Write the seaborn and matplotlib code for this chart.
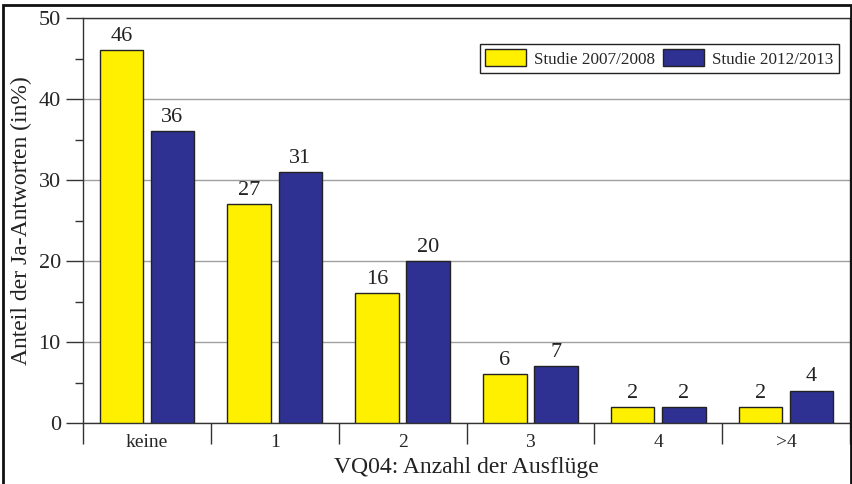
import pandas as pd
import matplotlib
matplotlib.use("Agg")
import matplotlib.pyplot as plt
import seaborn as sns
from matplotlib.patches import Rectangle
from matplotlib.ticker import MultipleLocator, FixedLocator

# Data
categories = ["keine", "1", "2", "3", "4", ">4"]
studie_2007 = [46, 27, 16, 6, 2, 2]
studie_2012 = [36, 31, 20, 7, 2, 4]
series_names = ["Studie 2007/2008", "Studie 2012/2013"]
colors = ["#FFF000", "#2E3192"]

df = pd.DataFrame({
    "kategorie": categories * 2,
    "wert": studie_2007 + studie_2012,
    "studie": [series_names[0]] * len(categories) + [series_names[1]] * len(categories),
})

sns.set_style("white")
plt.rcParams["font.family"] = ["Liberation Serif", "DejaVu Serif"]

fig = plt.figure(figsize=(8.53, 4.84), dpi=100)
ax = fig.add_axes([0.0973, 0.126, 0.8992, 0.8368])

sns.barplot(data=df, x="kategorie", y="wert", hue="studie", order=categories,
            hue_order=series_names, palette=colors, width=0.8, gap=0.15,
            edgecolor="#222222", linewidth=1.0, saturation=1, ax=ax, zorder=3)

for c in ax.containers:
    ax.bar_label(c, padding=3, fontsize=16, color="#222222")

ax.set_ylim(0, 50)
ax.set_xlim(-0.5, len(categories) - 0.5)
ax.yaxis.set_major_locator(MultipleLocator(10))
ax.yaxis.set_minor_locator(MultipleLocator(5))
ax.grid(axis="y", color="#A0A0A0", linewidth=1.0, zorder=0)
ax.tick_params(axis="y", which="major", direction="out", length=12, width=1,
               left=True, labelsize=16, color="#333333", pad=4)
ax.tick_params(axis="y", which="minor", direction="out", length=6, width=1,
               left=True, color="#333333")

# category boundaries as ticks, labels in between
ax.xaxis.set_major_locator(FixedLocator([i - 0.5 for i in range(len(categories) + 1)]))
ax.xaxis.set_minor_locator(FixedLocator(list(range(len(categories)))))
ax.set_xticklabels([""] * (len(categories) + 1))
ax.set_xticklabels(categories, minor=True)
ax.tick_params(axis="x", which="major", direction="out", length=15, width=1,
               bottom=True, color="#333333")
ax.tick_params(axis="x", which="minor", length=0, labelsize=14, pad=8)

ax.set_xlabel("VQ04: Anzahl der Ausflüge", fontsize=17, labelpad=4, color="#222222")
ax.set_ylabel("Anteil der Ja-Antworten (in%)", fontsize=17, labelpad=5, color="#222222")

for s in ax.spines.values():
    s.set_color("#333333")
    s.set_linewidth(1.0)

leg = ax.legend(loc="upper right", bbox_to_anchor=(0.985, 0.935), ncol=2, fontsize=12.3,
                frameon=True, fancybox=False, edgecolor="#222222", framealpha=1,
                handlelength=2.4, handleheight=1.15, columnspacing=0.5,
                borderpad=0.3, handletextpad=0.45, borderaxespad=0)
leg.get_frame().set_linewidth(1.0)

# outer frame of the figure
fig.patches.append(Rectangle((0.004, -0.1), 0.994, 1.089, transform=fig.transFigure,
                             fill=False, edgecolor="#111111", linewidth=2))

fig.savefig("out.png", dpi=100)
